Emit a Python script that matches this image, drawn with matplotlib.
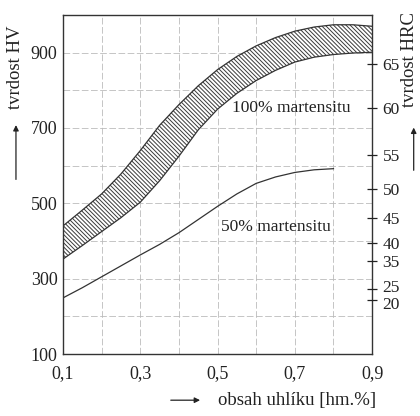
import matplotlib
matplotlib.use("Agg")
import matplotlib.pyplot as plt
import matplotlib.transforms as mtransforms
from matplotlib.patches import FancyArrowPatch

plt.rcParams['font.family'] = ['Liberation Serif', 'DejaVu Serif']
plt.rcParams['hatch.linewidth'] = 0.7
plt.rcParams['hatch.color'] = '#3a3a3a'

# carbon content [wt.%]
carbon = [0.10, 0.15, 0.20, 0.25, 0.30, 0.35, 0.40, 0.45, 0.50, 0.55, 0.60, 0.65, 0.70, 0.75, 0.80, 0.85, 0.90]
# 100 % martensite band (HV)
hv_100_upper = [440, 482, 525, 578, 640, 707, 762, 812, 855, 890, 918, 940, 957, 968, 974, 974, 970]
hv_100_lower = [352, 388, 425, 462, 503, 560, 625, 695, 750, 792, 826, 853, 875, 888, 895, 899, 901]

# 50 % martensite curve
carbon_50 = [0.10, 0.15, 0.20, 0.25, 0.30, 0.35, 0.40, 0.45, 0.50, 0.55, 0.60, 0.65, 0.70, 0.75, 0.80]
hv_50 = [249, 276, 305, 334, 363, 391, 422, 457, 492, 525, 553, 570, 582, 589, 592]

# HRC scale on the right (HV position of each HRC tick)
hrc_labels = ['65', '60', '55', '50', '45', '40', '35', '25', '20']
hrc_at_hv = [869, 754, 629, 539, 462, 395, 347, 273, 244]

fig = plt.figure(figsize=(4.2, 4.16), dpi=100)
ax = fig.add_axes([0.150, 0.149, 0.736, 0.815])

ax.fill_between(carbon, hv_100_lower, hv_100_upper, facecolor='white', hatch='\\' * 8,
                edgecolor='#3a3a3a', linewidth=0, zorder=2)
ax.plot(carbon, hv_100_upper, color='#333333', lw=0.9, zorder=3)
ax.plot(carbon, hv_100_lower, color='#333333', lw=0.9, zorder=3)
ax.plot(carbon_50, hv_50, color='#333333', lw=0.9, zorder=3)

ax.set_xlim(0.1, 0.9)
ax.set_ylim(100, 1000)
ax.set_xticks([0.1, 0.3, 0.5, 0.7, 0.9])
ax.set_xticklabels(['0,1', '0,3', '0,5', '0,7', '0,9'])
ax.set_xticks([0.2, 0.4, 0.6, 0.8], minor=True)
ax.set_yticks([100, 300, 500, 700, 900])
ax.set_yticks([200, 400, 600, 800, 1000], minor=True)
ax.tick_params(which='both', length=0, labelsize=13, colors='#222222')
ax.tick_params(axis='x', pad=8)
ax.tick_params(axis='y', pad=4)
ax.grid(True, which='both', color='#bbbbbb', linestyle=(0, (8, 3)), linewidth=0.6, zorder=1)
for s in ax.spines.values():
    s.set_color('#333333')
    s.set_linewidth(1.0)

ax2 = ax.twinx()
ax2.set_ylim(100, 1000)
ax2.set_yticks(hrc_at_hv)
ax2.set_yticklabels(hrc_labels)
ax2.tick_params(axis='y', direction='inout', length=7, width=0.9, labelsize=12.5, colors='#222222', pad=4)
for s in ax2.spines.values():
    s.set_visible(False)
# the 25 / 20 labels sit very close, nudge them apart a little
for lbl in ax2.get_yticklabels():
    if lbl.get_text() == '25':
        lbl.set_transform(lbl.get_transform() + mtransforms.ScaledTranslation(0, 2 / 72, fig.dpi_scale_trans))
    if lbl.get_text() == '20':
        lbl.set_transform(lbl.get_transform() + mtransforms.ScaledTranslation(0, -2 / 72, fig.dpi_scale_trans))

ax.text(0.69, 752, '100% martensitu', fontsize=12.5, ha='center', va='center', color='#222222', zorder=4)
ax.text(0.652, 438, '50% martensitu', fontsize=12.5, ha='center', va='center', color='#222222', zorder=4)

# axis labels with arrows
fig.text(0.036, 0.838, 'tvrdost HV', rotation=90, fontsize=13.5, ha='center', va='center', color='#222222')
fig.text(0.976, 0.858, 'tvrdost HRC', rotation=90, fontsize=13.5, ha='center', va='center', color='#222222')
fig.text(0.708, 0.038, 'obsah uhlíku [hm.%]', fontsize=13.5, ha='center', va='center', color='#222222')
arr = dict(arrowstyle='-|>', color='#222222', lw=0.9, mutation_scale=8)
fig.patches.append(FancyArrowPatch((0.038, 0.562), (0.038, 0.706), transform=fig.transFigure, **arr))
fig.patches.append(FancyArrowPatch((0.985, 0.584), (0.985, 0.700), transform=fig.transFigure, **arr))
fig.patches.append(FancyArrowPatch((0.400, 0.038), (0.483, 0.038), transform=fig.transFigure, **arr))

fig.savefig('out.png', dpi=100)
